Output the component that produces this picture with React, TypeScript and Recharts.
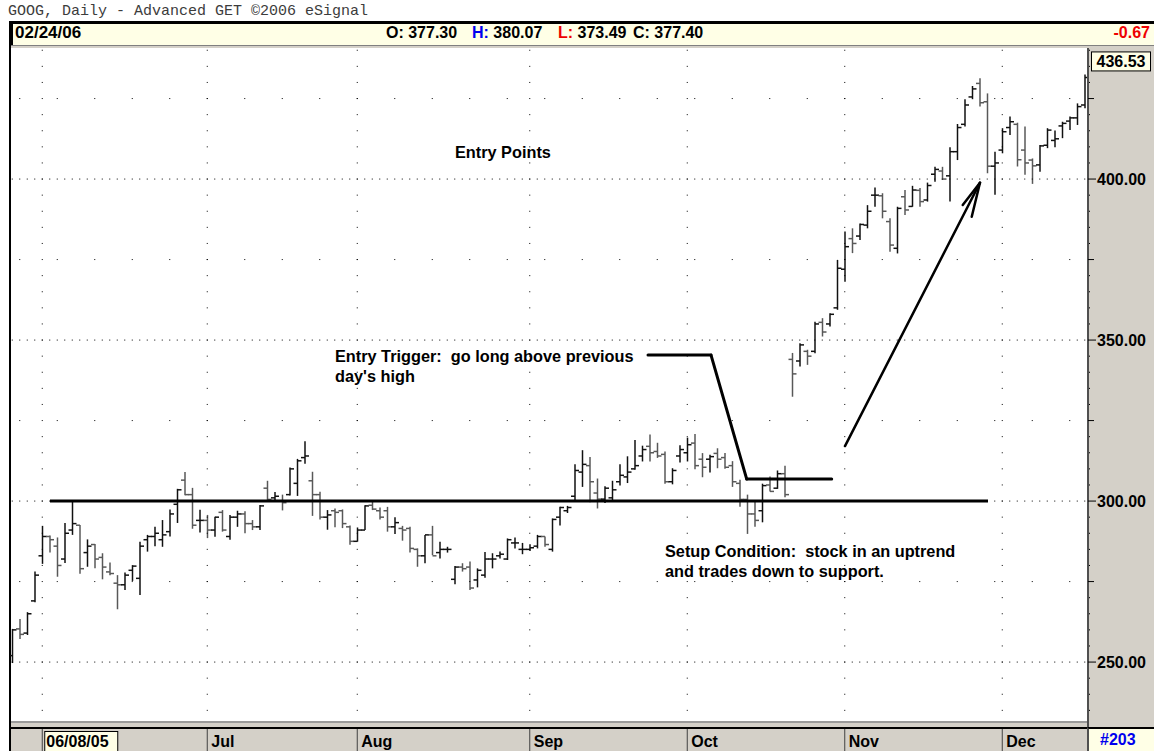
import { ComposedChart, Bar, XAxis, YAxis, ReferenceLine, ReferenceDot } from 'recharts'

const sans = '"Liberation Sans", Arial, sans-serif'
const mono = '"Liberation Mono", "Courier New", monospace'

// GOOG daily bars (index 0 = first bar on the left)
const opens = [
  252, 260.3, 259, 269, 283, 289, 286, 282, 291, 292.5, 284, 286.5, 282.5, 278, 274.5, 274, 278.5, 276, 288, 289,
  288, 290.5, 299, 306.5, 302, 294, 294, 291, 296.5, 289, 295, 296, 293, 292, 304, 301, 300, 302, 305.5, 313.5,
  306.3, 302, 295, 297, 297, 292, 287.5, 291, 298.7, 297, 297, 292, 291.5, 291.5, 285, 283, 289.5, 284, 285, 275.7,
  279.5, 279.5, 275.5, 277, 282, 283, 282, 287, 285, 285, 286, 289, 285, 295, 297, 301.5, 309, 311, 302.5, 300.6,
  301, 306, 307.5, 310, 314, 317, 315.4, 314.5, 306, 314, 315, 318, 313, 313, 314.8, 313.5, 311, 305.5, 300.5, 296,
  297, 305, 304, 308.5, 344, 343.5, 346.5, 346.5, 355.5, 355, 360, 372, 381.5, 382.3, 385.7, 395, 394.8, 386.8, 378.5, 394.5,
  391.5, 396.5, 393.5, 401.5, 402.5, 401, 408.5, 417, 425.5, 429.7, 424, 404, 409, 416, 417, 409, 405.9, 404.4, 410.5, 412,
  416.5, 418, 419, 423,
]
const highs = [
  260.3, 263.4, 265.5, 278.1, 292.3, 289.3, 288.7, 293.2, 299.8, 292.6, 288.1, 286.7, 283.8, 280.9, 277, 277.8, 280.1, 287.4, 289.5, 292,
  294.1, 297.4, 303.8, 309, 304.1, 297.3, 295.7, 295.1, 297.2, 295.7, 297, 296.8, 294.1, 298.8, 306.3, 302.8, 302, 310.4, 313.1, 318.6,
  309.1, 302.9, 297.2, 297.7, 297.4, 292.4, 291.8, 298.7, 299.8, 298, 298.2, 295, 292.3, 292, 285.3, 289.5, 292.3, 287.4, 285.8, 279.8,
  280.7, 281.2, 279.1, 284.2, 283.8, 284.3, 288.4, 288.7, 287, 286.6, 289.5, 289, 294.6, 298.2, 298.5, 311.4, 315.8, 313.7, 307, 304.6,
  306.3, 311.4, 313.9, 319, 317.2, 320.7, 318.1, 315.4, 310.2, 317.3, 319.7, 320.8, 314.9, 314.4, 316.4, 314.9, 312.4, 306.6, 302, 300,
  305.4, 307.6, 309.5, 311, 346, 349, 347, 355.7, 356.8, 358.3, 374.9, 383.7, 384.7, 386.2, 391.9, 397.4, 395.6, 387.8, 391.4, 396.6,
  397.9, 397.2, 398.9, 403.8, 403.8, 409.9, 417.1, 424.8, 428.9, 431.3, 426.6, 408.5, 415.8, 419.4, 417.5, 416.3, 406.4, 410.6, 415.8, 415.1,
  417.8, 419.4, 423.5, 432.5,
]
const lows = [
  249.7, 257.2, 258.4, 268.6, 280.5, 284, 276.5, 280.8, 289.5, 277.4, 279.6, 279.1, 275.7, 277, 266.4, 272.4, 275.2, 270.8, 284.3, 286,
  285.8, 289, 293.2, 301.8, 291.4, 290.2, 288.5, 288.9, 290.5, 288, 292, 290, 291, 291, 299.8, 299.8, 297.1, 301.7, 301.6, 311.6,
  295.4, 294.3, 291.1, 291.9, 291.6, 286.4, 287.4, 291, 297.2, 294.3, 290.5, 289.8, 287.7, 284, 279.6, 280.7, 283.2, 282.2, 284, 274.2,
  278.1, 272.4, 273.2, 276.2, 279.1, 282.2, 281.7, 285.3, 283.5, 284.5, 285.3, 285.8, 284.3, 292.4, 296.3, 299.9, 304.4, 299.6, 297.7, 299.4,
  300.1, 304.8, 305.6, 309.7, 312.3, 312.3, 313.4, 305.4, 305.2, 312, 312.3, 309.9, 307.4, 308.9, 310.2, 310, 304.4, 298.2, 289.8, 292,
  293.4, 303, 303.8, 301.2, 332.4, 341.8, 342.3, 345.9, 351.1, 354.2, 359.4, 368.1, 377, 381.1, 384.7, 391.4, 387.8, 377.4, 376.9, 388.8,
  391.4, 391.4, 393, 399.2, 399.7, 393, 405.9, 416.3, 424.8, 422.5, 401.8, 395.1, 408, 413.7, 403.9, 401.3, 398.5, 402.3, 409.6, 409.9,
  412.7, 415.2, 416.8, 422,
]
const closes = [
  260, 258.6, 265, 277, 289, 288, 280, 290, 293, 279, 286, 282, 279.5, 277.5, 274, 277, 279.8, 286, 289, 290,
  289.5, 296, 303.5, 302, 292.5, 294, 291, 295, 291, 295, 296, 293, 292, 298.5, 300.5, 301.5, 299.5, 310, 312.5, 314,
  302, 295, 295.7, 296.5, 293, 287.5, 291, 298.5, 297.5, 295, 292, 293.3, 291, 285.3, 283, 289.5, 283, 285, 285, 279.5,
  279, 273, 278.5, 282, 282, 283.5, 288, 287, 285, 285.5, 289, 286.5, 294.3, 298, 298, 309.5, 311.4, 306, 300.6, 304,
  303.5, 308, 309, 311, 316, 315, 314, 306, 309.5, 316, 317.5, 311, 310.5, 313.8, 313, 310.5, 306, 300.5, 296, 294,
  304.8, 303, 308.5, 302, 339.5, 348.5, 345, 355, 352.5, 358, 372.3, 379, 380, 385.9, 390, 395, 390, 379.5, 390.9, 390.4,
  396.6, 393, 398, 403, 400, 408.5, 416, 423, 428, 423.7, 404, 405, 414.7, 417.8, 406, 405, 404.1, 410.3, 415.2, 412.5,
  417.3, 419, 422.5, 431.5,
]

const monthTicks = [4, 26, 46, 69, 90, 111, 132]
const monthLabels = ['06/08/05', 'Jul', 'Aug', 'Sep', 'Oct', 'Nov', 'Dec']
const priceLabels = [250, 300, 350, 400]
const halfLevels = [275, 325, 375, 425]
const lastPrice = 436.53

const xDomain = [-0.3, 143.3]
const yDomain = [231.7, 440.7]

// annotation geometry in chart units (bar index, price)
const supportLine = [{ x: 5.03, y: 300 }, { x: 130.1, y: 300 }]
const triggerPath = [
  { x: 84.77, y: 345.34 }, { x: 93.17, y: 345.34 }, { x: 97.93, y: 306.83 }, { x: 109.26, y: 306.83 },
]
const arrowShaft = [{ x: 111.03, y: 317.08 }, { x: 129.03, y: 398.85 }]
const arrowWings = [{ x: 126.73, y: 391.93 }, { x: 127.93, y: 388.3 }]
const notes = [
  { x: 59.03, y: 406.5, lines: ['Entry Points'] },
  { x: 43.03, y: 343.2, lines: ["Entry Trigger:  go long above previous", "day's high"] },
  { x: 87.03, y: 282.6, lines: ['Setup Condition:  stock in an uptrend', 'and trades down to support.'] },
]

const bars = opens.map((o, i) => ({ i, o, h: highs[i], l: lows[i], c: closes[i], range: [lows[i], highs[i]] }))

const yTicks: number[] = []
for (let v = 235; v <= 440; v += 5) yTicks.push(v)

function OhlcBar(props: any) {
  const { x, y, width, height, payload } = props
  const top = Math.min(y, y + height)
  const bot = Math.max(y, y + height)
  const span = payload.h - payload.l || 1
  const py = (v: number) => top + ((payload.h - v) / span) * (bot - top)
  const cx = x + width / 2
  const col = payload.c >= payload.o ? '#111' : '#585858'
  return (
    <g stroke={col} strokeWidth={1.5}>
      <line x1={cx} x2={cx} y1={top} y2={bot} />
      <line x1={cx - 4} x2={cx} y1={py(payload.o)} y2={py(payload.o)} />
      <line x1={cx} x2={cx + 4} y1={py(payload.c)} y2={py(payload.c)} />
    </g>
  )
}

function PriceTick({ x, y, payload }: any) {
  const v = payload.value
  if (priceLabels.includes(v)) {
    return (
      <g>
        <line x1={x + 1} x2={x + 9} y1={y} y2={y} stroke="#000" />
        <text x={x + 10} y={y} dy={6} fontFamily={sans} fontSize={16} fontWeight="bold" fill="#000">
          {v.toFixed(2)}
        </text>
      </g>
    )
  }
  if (halfLevels.includes(v)) return <line x1={x + 1} x2={x + 7} y1={y} y2={y} stroke="#000" />
  return <rect x={x + 2} y={y - 0.5} width={1} height={1} fill="#000" />
}

function MonthTick({ x, y, payload }: any) {
  const k = monthTicks.indexOf(payload.value)
  return (
    <g>
      <line x1={x} x2={x} y1={y + 8} y2={y + 30} stroke="#404040" />
      {k === 0 && <rect x={x + 2.5} y={y + 10.5} width={73} height={20} fill="#FFFFE6" stroke="#000" />}
      <text x={x + 4} y={y + 26} fontFamily={sans} fontSize={16} fontWeight="bold" fill="#000">
        {monthLabels[k]}
      </text>
    </g>
  )
}

const noteShape = (lines: string[]) => (p: any) => (
  <text x={p.cx} y={p.cy} fontFamily={sans} fontSize={16.3} fontWeight="bold" fill="#000" xmlSpace="preserve" style={{ whiteSpace: 'pre' }}>
    {lines.map((s, k) => <tspan key={k} x={p.cx} dy={k ? 20 : 0}>{s}</tspan>)}
  </text>
)

const lastPriceShape = (p: any) => (
  <g>
    <rect x={p.cx + 4.5} y={p.cy - 9.5} width={59} height={19} fill="#FFFFE6" stroke="#000" />
    <text x={p.cx + 34} y={p.cy + 6} textAnchor="middle" fontFamily={sans} fontSize={16} fontWeight="bold" fill="#000">
      {lastPrice.toFixed(2)}
    </text>
  </g>
)

const abs = (s: any) => ({ position: 'absolute' as const, ...s })
const hdr = { fontFamily: sans, fontSize: 16, fontWeight: 'bold' as const, lineHeight: '18px', top: 24, whiteSpace: 'pre' as const }

export default function App() {
  return (
    <div style={abs({ left: 0, top: 0, width: 1154, height: 751, background: '#fff', overflow: 'hidden' })}>
      <div style={abs({ left: 8, top: 3, fontFamily: mono, fontSize: 15, lineHeight: '18px', color: '#3c3c3c', whiteSpace: 'pre' })}>
        GOOG, Daily - Advanced GET ©2006 eSignal
      </div>

      <div style={abs({ left: 10, top: 21, width: 1144, height: 24, background: '#FFFFE6', borderTop: '3px solid #000', borderLeft: '3px solid #000', boxSizing: 'border-box' })} />
      <div style={abs({ left: 10, top: 45, width: 1144, height: 1, background: '#808080' })} />
      <div style={abs({ left: 10, top: 46, width: 1144, height: 2, background: '#d4d0c8' })} />
      <div style={abs({ ...hdr, left: 15, fontSize: 17 })}>02/24/06</div>
      <div style={abs({ ...hdr, left: 386 })}>O: 377.30</div>
      <div style={abs({ ...hdr, left: 472 })}><span style={{ color: '#0000ee' }}>H:</span> 380.07</div>
      <div style={abs({ ...hdr, left: 558 })}><span style={{ color: '#ee0000' }}>L:</span> 373.49</div>
      <div style={abs({ ...hdr, left: 633 })}>C: 377.40</div>
      <div style={abs({ ...hdr, right: 4, color: '#ee0000' })}>-0.67</div>

      <div style={abs({ left: 1087, top: 48, width: 67, height: 680, background: '#d4d0c8', borderLeft: '2px solid #505050', boxSizing: 'border-box' })} />
      <div style={abs({ left: 10, top: 721, width: 1077, height: 2, background: '#9a9a9a' })} />
      <div style={abs({ left: 10, top: 723, width: 1077, height: 4, background: '#d4d0c8' })} />
      <div style={abs({ left: 10, top: 727, width: 1077, height: 2, background: '#000' })} />
      <div style={abs({ left: 10, top: 729, width: 1077, height: 22, background: '#d4d0c8' })} />
      <div style={abs({ left: 1087, top: 727, width: 67, height: 24, background: '#FFFFE6', borderLeft: '2px solid #505050', borderTop: '2px solid #000', boxSizing: 'border-box' })} />
      <div style={abs({ ...hdr, top: 731, left: 1100, color: '#0000ee' })}>#203</div>
      <div style={abs({ left: 9, top: 21, width: 2, height: 730, background: '#000' })} />

      <div style={abs({ left: 0, top: 0 })}>
        <ComposedChart width={1154} height={751} data={bars} margin={{ top: 48, right: 0, bottom: 0, left: 10 }}>
          <XAxis
            dataKey="i" type="number" domain={xDomain} allowDataOverflow ticks={monthTicks} interval={0}
            tick={<MonthTick />} axisLine={false} tickLine={false} tickSize={0} tickMargin={0} height={30}
          />
          <YAxis
            orientation="right" type="number" domain={yDomain} allowDataOverflow ticks={yTicks} interval={0}
            tick={<PriceTick />} axisLine={false} tickLine={false} tickSize={0} tickMargin={0} width={67}
          />
          {priceLabels.map(v => (
            <ReferenceLine key={'p' + v} y={v} stroke="#000" strokeDasharray="1 6.5" strokeDashoffset={5.75} />
          ))}
          {halfLevels.map(v => (
            <ReferenceLine key={'h' + v} y={v} stroke="#000" strokeDasharray="1 36.5" strokeDashoffset={20.75} />
          ))}
          {monthTicks.map(t => (
            <ReferenceLine
              key={'m' + t} segment={[{ x: t, y: yDomain[1] }, { x: t, y: yDomain[0] }]}
              stroke="#000" strokeDasharray="1 15.1" strokeDashoffset={14.35}
            />
          ))}
          <Bar dataKey="range" barSize={6} shape={<OhlcBar />} isAnimationActive={false} />
          <ReferenceLine segment={supportLine} stroke="#000" strokeWidth={3} />
          {triggerPath.slice(1).map((p, k) => (
            <ReferenceLine key={'t' + k} segment={[triggerPath[k], p]} stroke="#000" strokeWidth={3} strokeLinecap="round" />
          ))}
          <ReferenceLine segment={arrowShaft} stroke="#000" strokeWidth={2.5} strokeLinecap="round" />
          {arrowWings.map((w, k) => (
            <ReferenceLine key={'w' + k} segment={[arrowShaft[1], w]} stroke="#000" strokeWidth={2.5} strokeLinecap="round" />
          ))}
          {notes.map((n, k) => (
            <ReferenceDot key={'n' + k} x={n.x} y={n.y} r={0} ifOverflow="visible" shape={noteShape(n.lines)} />
          ))}
          <ReferenceDot x={xDomain[1]} y={lastPrice} r={0} ifOverflow="visible" shape={lastPriceShape} />
        </ComposedChart>
      </div>
    </div>
  )
}
